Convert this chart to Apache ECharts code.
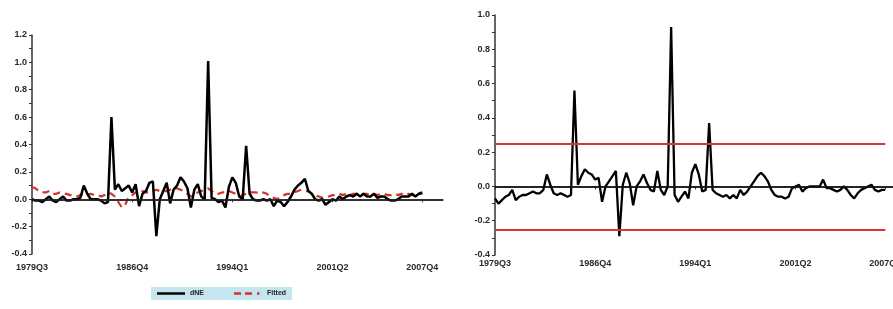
<!DOCTYPE html>
<html>
<head>
<meta charset="utf-8">
<script src="https://cdn.jsdelivr.net/npm/echarts@6/dist/echarts.min.js"></script>
<style>
  html, body { margin: 0; padding: 0; background: #fff; overflow: hidden; }
  /* right panel runs past the window edge, as in the reference */
  #chart { width: 920px; height: 309px; }
</style>
</head>
<body>
<div id="chart"></div>
<script>
// quarterly axis: 1979Q3 onwards (axis runs a few quarters past the data)
const startYear = 1979;
const startQuarter = 3;
const axisLength = 120;
const quarters = [];
for (let k = 0; k < axisLength; k++) {
  const q = startQuarter - 1 + k;
  quarters.push(startYear + Math.floor(q / 4) + "Q" + ((q % 4) + 1));
}
const tickLabels = ["1979Q3", "1986Q4", "1994Q1", "2001Q2", "2007Q4"];

// left panel: actual and fitted
const dNE = [
  0.00, -0.01, -0.01, -0.02, 0.00, 0.02, -0.01, -0.02, 0.00, 0.02,
  -0.01, -0.01, 0.00, 0.00, 0.01, 0.10, 0.04, 0.00, 0.00, 0.00,
  -0.01, -0.03, -0.02, 0.60, 0.07, 0.11, 0.06, 0.08, 0.10, 0.05,
  0.11, -0.05, 0.04, 0.06, 0.12, 0.13, -0.27, 0.00, 0.06, 0.12,
  -0.03, 0.07, 0.10, 0.16, 0.13, 0.08, -0.06, 0.07, 0.11, 0.02,
  0.00, 1.01, 0.01, 0.00, -0.02, -0.01, -0.06, 0.09, 0.16, 0.12,
  0.02, 0.00, 0.39, 0.04, 0.00, -0.01, -0.01, 0.00, -0.01, 0.00,
  -0.05, -0.01, -0.02, -0.05, -0.02, 0.02, 0.07, 0.10, 0.12, 0.15,
  0.06, 0.04, 0.00, -0.01, 0.00, -0.04, -0.02, 0.00, -0.01, 0.02,
  0.00, 0.02, 0.03, 0.02, 0.04, 0.02, 0.04, 0.02, 0.02, 0.04,
  0.01, 0.02, 0.02, 0.00, -0.01, -0.01, 0.00, 0.02, 0.02, 0.02,
  0.04, 0.02, 0.04, 0.05
];
const fitted = [
  0.09, 0.08, 0.06, 0.05, 0.05, 0.06, 0.04, 0.04, 0.05, 0.04,
  0.04, 0.03, 0.03, 0.02, 0.03, 0.04, 0.03, 0.04, 0.03, 0.03,
  0.02, 0.03, 0.05, 0.04, 0.02, -0.02, -0.06, -0.04, 0.02, 0.03,
  0.05, 0.04, 0.06, 0.05, 0.05, 0.06, 0.07, 0.06, 0.06, 0.06,
  0.07, 0.08, 0.08, 0.07, 0.06, 0.04, 0.02, 0.04, 0.05, 0.06,
  0.07, 0.08, 0.06, 0.04, 0.04, 0.05, 0.05, 0.06, 0.05, 0.04,
  0.02, 0.03, 0.04, 0.05, 0.05, 0.05, 0.04, 0.05, 0.04, 0.02,
  0.01, 0.00, 0.02, 0.03, 0.04, 0.04, 0.05, 0.06, 0.07, 0.06,
  0.06, 0.04, 0.03, 0.02, 0.01, 0.02, 0.02, 0.03, 0.03, 0.04,
  0.03, 0.04, 0.03, 0.04, 0.04, 0.03, 0.04, 0.04, 0.03, 0.04,
  0.03, 0.04, 0.04, 0.03, 0.03, 0.04, 0.03, 0.04, 0.03, 0.04,
  0.03, 0.04, 0.04, 0.04
];

// right panel: residuals with +/- band
const resid = [
  -0.07, -0.10, -0.08, -0.06, -0.05, -0.02, -0.08, -0.06, -0.05, -0.05,
  -0.04, -0.03, -0.04, -0.04, -0.02, 0.07, 0.01, -0.04, -0.05, -0.04,
  -0.05, -0.06, -0.05, 0.56, 0.01, 0.06, 0.10, 0.08, 0.07, 0.04,
  0.05, -0.09, 0.00, 0.03, 0.06, 0.09, -0.29, 0.01, 0.08, 0.02,
  -0.11, 0.00, 0.03, 0.07, 0.02, -0.02, -0.03, 0.09, -0.02, -0.05,
  0.00, 0.93, -0.05, -0.09, -0.06, -0.03, -0.07, 0.08, 0.13, 0.07,
  -0.03, -0.02, 0.37, -0.02, -0.04, -0.05, -0.06, -0.05, -0.07, -0.05,
  -0.07, -0.02, -0.05, -0.03, 0.00, 0.03, 0.06, 0.08, 0.06, 0.03,
  -0.02, -0.05, -0.06, -0.06, -0.07, -0.06, -0.01, 0.00, 0.01, -0.03,
  -0.01, 0.00, 0.00, 0.00, 0.00, 0.04, -0.01, -0.01, -0.02, -0.03,
  -0.02, 0.00, -0.02, -0.05, -0.07, -0.04, -0.02, -0.01, 0.00, 0.01,
  -0.02, -0.03, -0.02, -0.02
];
const bandLevels = [0.25, -0.25];

const labelFont = {
  fontFamily: "Liberation Sans",
  fontSize: 9,
  fontWeight: "bold",
  color: "#2a2a2a",
};

function isTick(idx) {
  return tickLabels.indexOf(quarters[idx]) >= 0;
}

function makeXAxis(gridIndex, margin) {
  return {
    type: "category",
    gridIndex: gridIndex,
    data: quarters,
    boundaryGap: false,
    axisLine: { lineStyle: { color: "#333", width: 1.5 } },
    axisTick: { interval: isTick, length: 3, lineStyle: { color: "#333" } },
    axisLabel: Object.assign({ interval: isTick, margin: margin }, labelFont),
    splitLine: { show: false },
  };
}

function makeYAxis(gridIndex, max) {
  return {
    type: "value",
    gridIndex: gridIndex,
    min: -0.4,
    max: max,
    interval: 0.2,
    axisLine: { show: true, lineStyle: { color: "#333", width: 1.5 } },
    axisTick: { show: true, length: 3, lineStyle: { color: "#333" } },
    minorTick: { show: true, splitNumber: 2, length: 3, lineStyle: { color: "#333" } },
    axisLabel: Object.assign(
      { margin: 5, formatter: (v) => v.toFixed(1) },
      labelFont
    ),
    splitLine: { show: false },
  };
}

const lastData = quarters[resid.length - 1];

const chart = echarts.init(document.getElementById("chart"));
chart.setOption({
  backgroundColor: "#ffffff",
  animation: false,
  grid: [
    { left: 32, top: 35, width: 411, height: 219 },
    { left: 495, top: 15, width: 411, height: 240 },
  ],
  xAxis: [makeXAxis(0, 9), makeXAxis(1, 4)],
  yAxis: [makeYAxis(0, 1.2), makeYAxis(1, 1.0)],
  legend: {
    left: 151,
    top: 287,
    padding: [3, 6, 3, 6],
    itemGap: 30,
    itemWidth: 28,
    itemHeight: 8,
    backgroundColor: "#c6e6ef",
    textStyle: { fontFamily: "Liberation Sans", fontSize: 7, fontWeight: "bold", color: "#222" },
    data: [
      { name: "dNE", icon: "path://M0,3 L28,3 L28,5.5 L0,5.5 Z", itemStyle: { color: "#000" } },
      {
        name: "Fitted",
        icon: "path://M0,3 L7,3 L7,5.5 L0,5.5 Z M11,3 L18,3 L18,5.5 L11,5.5 Z M23,3 L25.5,3 L25.5,5.5 L23,5.5 Z M28,3 L28,5.5 Z",
        itemStyle: { color: "#d2332b" },
      },
    ],
  },
  series: [
    {
      name: "dNE",
      type: "line",
      xAxisIndex: 0,
      yAxisIndex: 0,
      data: dNE,
      showSymbol: false,
      lineStyle: { color: "#000", width: 2.5 },
      itemStyle: { color: "#000" },
      z: 3,
      markLine: {
        silent: true,
        symbol: "none",
        label: { show: false },
        lineStyle: { color: "#222", width: 1.5, type: "solid" },
        data: [{ yAxis: 0 }],
      },
    },
    {
      name: "Fitted",
      type: "line",
      xAxisIndex: 0,
      yAxisIndex: 0,
      data: fitted,
      showSymbol: false,
      lineStyle: { color: "#d2332b", width: 2.2, type: [7, 5] },
      itemStyle: { color: "#d2332b" },
      z: 2,
    },
    {
      name: "Residual",
      type: "line",
      xAxisIndex: 1,
      yAxisIndex: 1,
      data: resid,
      showSymbol: false,
      lineStyle: { color: "#000", width: 2.3 },
      z: 3,
      markLine: {
        silent: true,
        symbol: "none",
        label: { show: false },
        data: [
          { yAxis: 0, lineStyle: { color: "#111", width: 1.5, type: "solid" } },
        ].concat(
          bandLevels.map((v) => [
            { coord: [quarters[0], v], lineStyle: { color: "#d6382f", width: 2, type: "solid" } },
            { coord: [lastData, v] },
          ])
        ),
      },
    },
  ],
});
</script>
</body>
</html>
